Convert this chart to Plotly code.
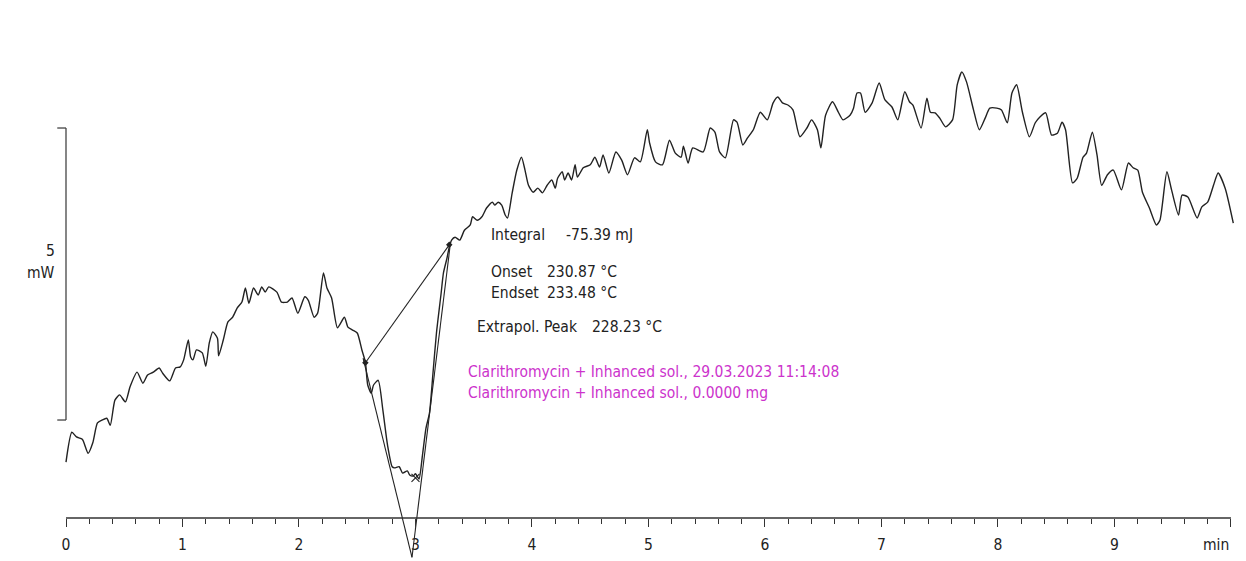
import plotly.graph_objects as go

# DSC trace: time (min) and heat flow (mW, relative)
time_min = [0.00,0.05,0.09,0.14,0.19,0.23,0.27,0.31,0.35,0.38,0.42,0.46,0.51,0.55,0.61,0.66,0.70,0.75,0.80,0.83,
            0.89,0.94,0.98,1.01,1.05,1.07,1.09,1.12,1.17,1.20,1.23,1.26,1.30,1.31,1.35,1.39,1.43,1.47,1.51,1.54,
            1.57,1.61,1.65,1.68,1.71,1.74,1.81,1.85,1.90,1.94,1.99,2.05,2.08,2.13,2.16,2.21,2.24,2.28,2.33,2.39,
            2.42,2.46,2.50,2.54,2.57,2.59,2.62,2.64,2.68,2.72,2.76,2.80,2.82,2.86,2.89,2.93,2.95,2.98,3.00,3.03,
            3.06,3.09,3.12,3.15,3.18,3.22,3.24,3.27,3.29,3.31,3.34,3.38,3.42,3.47,3.49,3.53,3.57,3.61,3.66,3.68,
            3.71,3.74,3.77,3.79,3.83,3.87,3.91,3.94,3.97,4.01,4.05,4.09,4.13,4.17,4.20,4.22,4.26,4.28,4.31,4.34,
            4.37,4.39,4.44,4.50,4.54,4.58,4.61,4.66,4.72,4.77,4.82,4.88,4.93,4.99,5.01,5.06,5.12,5.18,5.23,5.28,
            5.30,5.34,5.38,5.47,5.53,5.57,5.61,5.66,5.73,5.76,5.81,5.85,5.90,5.96,6.02,6.07,6.11,6.15,6.20,6.24,
            6.30,6.36,6.40,6.45,6.48,6.52,6.58,6.63,6.67,6.73,6.76,6.79,6.82,6.86,6.92,6.98,7.03,7.09,7.14,7.20,
            7.24,7.27,7.34,7.39,7.42,7.46,7.50,7.55,7.61,7.65,7.69,7.73,7.79,7.84,7.89,7.93,7.99,8.03,8.08,8.12,
            8.16,8.21,8.27,8.32,8.36,8.41,8.46,8.51,8.55,8.58,8.64,8.68,8.73,8.76,8.81,8.85,8.89,8.94,8.99,9.06,
            9.12,9.16,9.20,9.24,9.30,9.36,9.39,9.45,9.49,9.55,9.58,9.63,9.71,9.75,9.80,9.85,9.89,9.95,10.02]
heat_flow = [-0.72,-0.21,-0.29,-0.33,-0.57,-0.39,-0.05,0.00,0.03,-0.09,0.34,0.43,0.31,0.57,0.82,0.63,0.77,0.82,0.89,0.80,
             0.67,0.89,0.91,1.03,1.37,1.08,1.03,1.20,1.15,0.92,1.32,1.51,1.40,1.10,1.37,1.68,1.76,1.92,2.02,2.26,
             2.00,2.26,2.14,2.28,2.19,2.28,2.19,2.02,2.02,2.09,1.83,2.11,2.05,1.76,1.83,2.52,2.26,2.09,1.58,1.76,
             1.59,1.54,1.49,1.20,0.99,0.60,0.46,0.60,0.68,0.17,-0.43,-0.80,-0.82,-0.80,-0.91,-0.87,-0.94,-0.96,-0.92,-1.01,
             -0.60,-0.14,0.12,0.80,1.49,2.17,2.52,2.77,2.96,3.08,3.13,3.08,3.25,3.34,3.48,3.42,3.48,3.63,3.73,3.68,
             3.73,3.68,3.51,3.46,3.89,4.28,4.50,4.28,4.02,3.90,3.97,3.89,4.02,4.11,3.97,4.14,4.25,4.11,4.23,4.11,
             4.37,4.16,4.32,4.37,4.50,4.33,4.54,4.23,4.59,4.45,4.20,4.49,4.42,4.97,4.74,4.42,4.37,4.79,4.57,4.50,
             4.69,4.40,4.66,4.59,5.00,4.93,4.59,4.49,5.14,5.10,4.71,4.83,4.97,5.27,5.14,5.43,5.53,5.43,5.39,5.31,
             4.85,5.00,5.14,4.97,4.66,5.22,5.45,5.27,5.14,5.22,5.34,5.60,5.60,5.27,5.43,5.77,5.48,5.36,5.14,5.62,
             5.45,5.39,5.00,5.51,5.27,5.26,5.17,5.02,5.14,5.74,5.96,5.79,5.31,4.97,5.17,5.34,5.34,5.31,5.09,5.60,
             5.74,5.27,4.85,5.09,5.19,5.26,4.88,4.91,5.10,4.97,4.06,4.14,4.50,4.57,4.93,4.54,4.02,4.20,4.28,3.94,
             4.40,4.32,4.28,3.90,3.63,3.34,3.42,4.25,3.94,3.51,3.85,3.82,3.46,3.65,3.73,4.02,4.23,3.97,3.37]

# Evaluation construction (min, mW)
baseline_t = [2.57, 3.29]
baseline_hf = [0.98, 3.00]
tangent_left_t = [2.55, 2.97]
tangent_left_hf = [1.06, -2.35]
tangent_right_t = [3.30, 2.97]
tangent_right_hf = [3.03, -2.35]
peak_mark_t = [3.00]
peak_mark_hf = [-0.99]

tick_values = [0, 1, 2, 3, 4, 5, 6, 7, 8, 9, 10]
tick_labels = ["0", "1", "2", "3", "4", "5", "6", "7", "8", "9", ""]
axis_level = -1.678
scale_bar = [0, 5]

LINE = "#222222"
MAG = "#cc33cc"
FONT = "DejaVu Sans Condensed, Liberation Sans, sans-serif"
FS = 15.5

# page has an 8px body margin: figure is 1238x553 drawn at (8,8)
W, H = 1238, 553
L, R = 46, 12
XR = [-0.103, 10.026]
YR = [-2.414, 7.055]

fig = go.Figure()
fig.add_trace(go.Scatter(x=time_min, y=heat_flow, mode="lines",
                         line=dict(color=LINE, width=1.4, shape="spline", smoothing=0.6),
                         showlegend=False, hoverinfo="skip"))
fig.add_trace(go.Scatter(x=baseline_t, y=baseline_hf, mode="lines+markers",
                         line=dict(color=LINE, width=1.1),
                         marker=dict(symbol="diamond", size=5, color=LINE), showlegend=False))
fig.add_trace(go.Scatter(x=tangent_left_t, y=tangent_left_hf, mode="lines",
                         line=dict(color=LINE, width=1.1), showlegend=False))
fig.add_trace(go.Scatter(x=tangent_right_t, y=tangent_right_hf, mode="lines",
                         line=dict(color=LINE, width=1.1), showlegend=False))
fig.add_trace(go.Scatter(x=peak_mark_t, y=peak_mark_hf, mode="markers",
                         marker=dict(symbol="x-thin", size=8, line=dict(color=LINE, width=1.1)),
                         showlegend=False))

# x axis line
fig.add_shape(type="line", xref="x", yref="y", x0=0, x1=10.0, y0=axis_level, y1=axis_level,
              line=dict(color="#333333", width=1.3))
# scale bar (5 mW)
fig.add_shape(type="line", xref="x", yref="y", x0=0, x1=0, y0=scale_bar[0], y1=scale_bar[1],
              line=dict(color="#444444", width=1.3))
for yv in scale_bar:
    fig.add_shape(type="line", xref="x", yref="y", x0=-0.075, x1=0, y0=yv, y1=yv,
                  line=dict(color="#444444", width=1.3))

def txt(x, y, s, color="#222222", anchor="left", xref="x"):
    fig.add_annotation(x=x, y=y, xref=xref, yref="y", text=s, showarrow=False,
                       xanchor=anchor, yanchor="middle", borderpad=0,
                       font=dict(family=FONT, size=FS, color=color))

txt(3.64, 3.17, "Integral")
txt(4.28, 3.17, "-75.39 mJ")
txt(3.64, 2.53, "Onset")
txt(4.12, 2.53, "230.87 °C")
txt(3.64, 2.17, "Endset")
txt(4.12, 2.17, "233.48 °C")
txt(3.52, 1.59, "Extrapol. Peak")
txt(4.51, 1.59, "228.23 °C")
txt(3.44, 0.82, "Clarithromycin + Inhanced sol., 29.03.2023 11:14:08", color=MAG)
txt(3.44, 0.46, "Clarithromycin + Inhanced sol., 0.0000 mg", color=MAG)

# scale-bar unit label, left of plot area (paper coords)
def paper_x(t):
    return (t - XR[0]) / (XR[1] - XR[0])
txt(paper_x(-0.088), 2.90, "5", anchor="right", xref="paper")
txt(paper_x(-0.088), 2.52, "mW", anchor="right", xref="paper")
# axis unit label at the end of the axis
fig.add_annotation(x=9.99, y=axis_level - 0.47, xref="x", yref="y", text="min", showarrow=False,
                   xanchor="right", yanchor="middle", borderpad=0,
                   font=dict(family=FONT, size=FS, color="#222222"))

fig.update_layout(
    width=W, height=H,
    margin=dict(l=L, r=R, t=0, b=0),
    paper_bgcolor="white", plot_bgcolor="white",
    xaxis=dict(range=XR, showgrid=False, zeroline=False, showline=False,
               anchor="free", position=(553 - 510) / 553,
               tickmode="array", tickvals=tick_values, ticktext=tick_labels,
               ticks="outside", ticklen=8, tickwidth=1.2, tickcolor="#333333",
               ticklabelstandoff=4,
               minor=dict(dtick=0.2, tick0=0, ticks="outside", ticklen=5, tickwidth=1.1, tickcolor="#333333"),
               tickfont=dict(family=FONT, size=FS, color="#222222")),
    yaxis=dict(range=YR, visible=False, showgrid=False, zeroline=False),
)

fig.write_html("out.html")
